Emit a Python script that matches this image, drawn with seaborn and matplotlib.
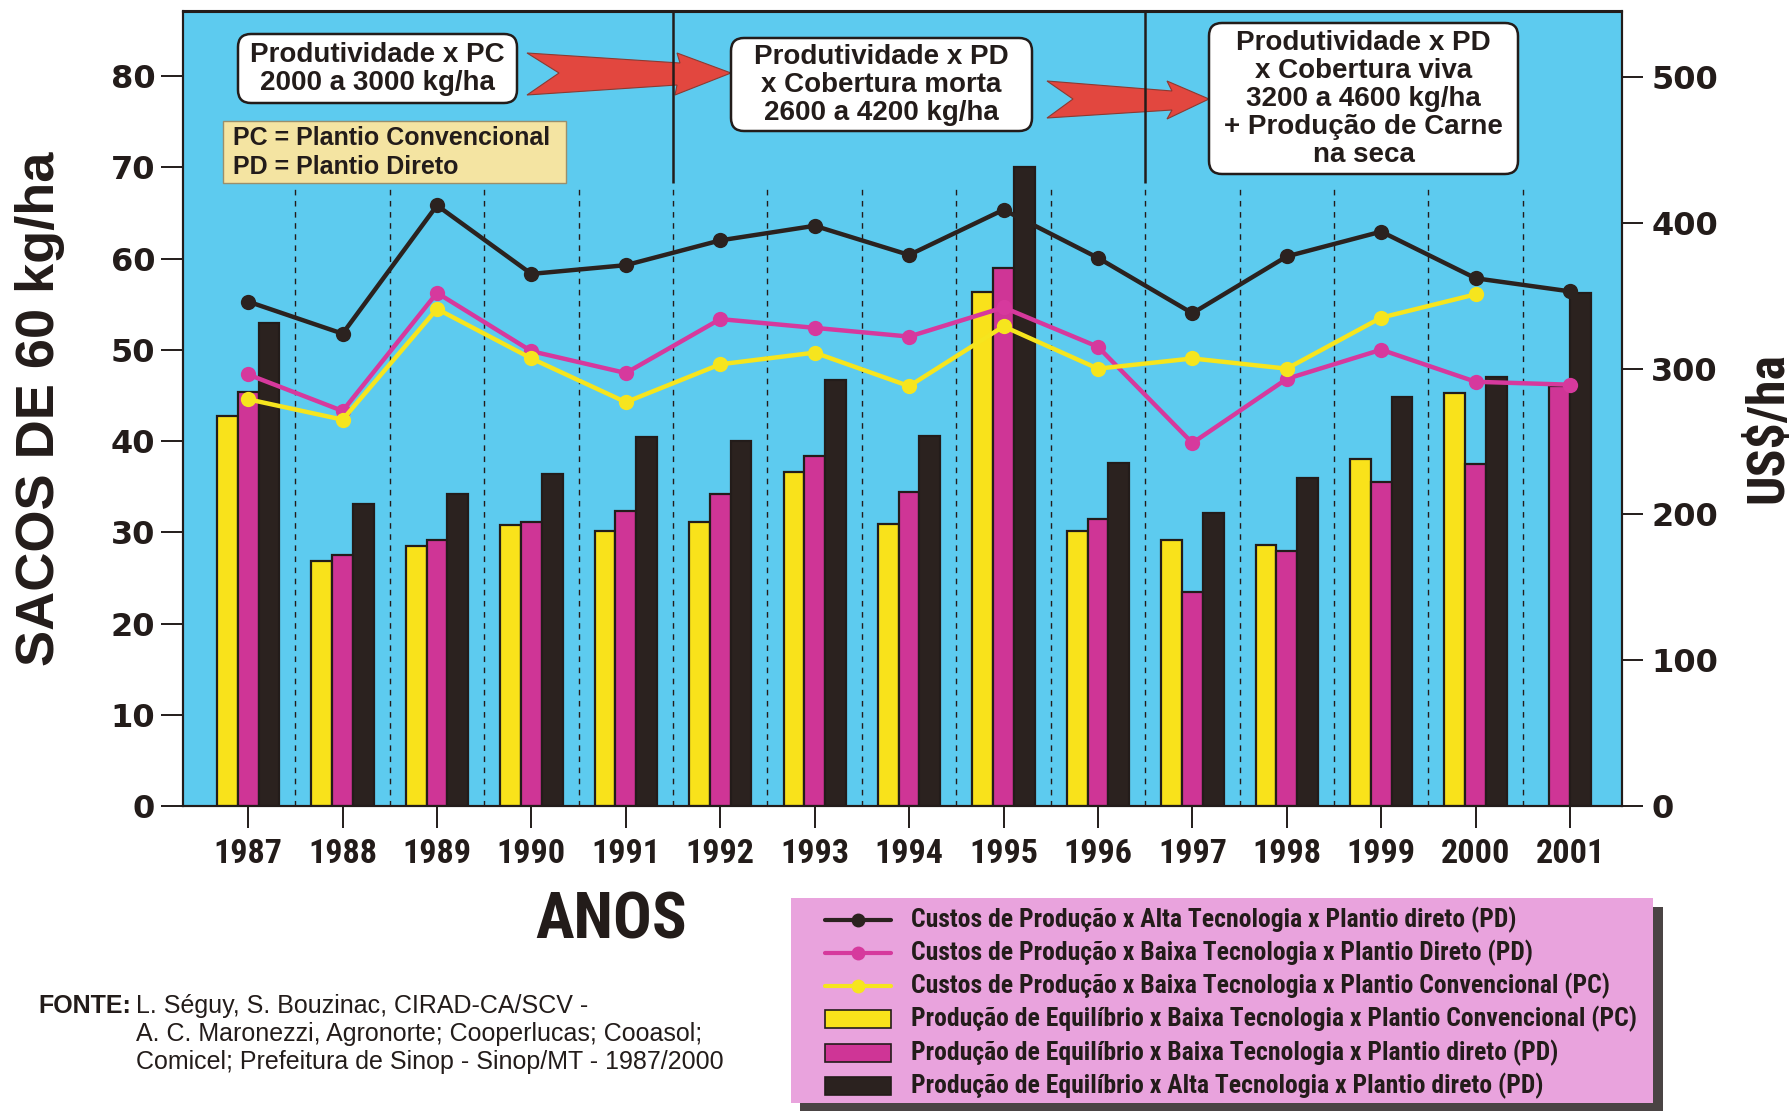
import numpy as np
import pandas as pd
import matplotlib
matplotlib.use("Agg")
import matplotlib.pyplot as plt
import seaborn as sns
from matplotlib import font_manager as fm
from matplotlib.font_manager import FontProperties
from matplotlib.lines import Line2D
from matplotlib.patches import FancyBboxPatch, Polygon

# ---------------------------------------------------------------- data
anos = ["1987", "1988", "1989", "1990", "1991", "1992", "1993", "1994",
        "1995", "1996", "1997", "1998", "1999", "2000", "2001"]

# Produção de equilíbrio (sacos de 60 kg/ha)
prod_baixa_pc = [42.8, 26.9, 28.5, 30.8, 30.2, 31.1, 36.6, 30.9,
                 56.3, 30.2, 29.2, 28.6, 38.0, 45.3, None]
prod_baixa_pd = [45.4, 27.5, 29.2, 31.1, 32.3, 34.2, 38.4, 34.4,
                 59.0, 31.5, 23.5, 28.0, 35.5, 37.5, 46.0]
prod_alta_pd = [53.0, 33.1, 34.2, 36.4, 40.5, 40.0, 46.7, 40.6,
                70.0, 37.6, 32.1, 36.0, 44.8, 47.0, 56.2]

# Custos de produção (US$/ha)
custo_alta_pd = [346, 324, 412, 365, 371, 388, 398, 378,
                 409, 376, 338, 377, 394, 362, 353]
custo_baixa_pd = [296, 271, 352, 312, 297, 334, 328, 322,
                  342, 315, 249, 293, 313, 291, 289]
custo_baixa_pc = [279, 265, 341, 307, 277, 303, 311, 288,
                  329, 300, 307, 300, 335, 351, None]

rotulos_custo = [
    "Custos de Produção x Alta Tecnologia x Plantio direto (PD)",
    "Custos de Produção x Baixa Tecnologia x Plantio Direto (PD)",
    "Custos de Produção x Baixa Tecnologia x Plantio Convencional (PC)",
]
rotulos_prod = [
    "Produção de Equilíbrio x Baixa Tecnologia x Plantio Convencional (PC)",
    "Produção de Equilíbrio x Baixa Tecnologia x Plantio direto (PD)",
    "Produção de Equilíbrio x Alta Tecnologia x Plantio direto (PD)",
]

textos_caixas = [
    "Produtividade x PC\n2000 a 3000 kg/ha",
    "Produtividade x PD\nx Cobertura morta\n2600 a 4200 kg/ha",
    "Produtividade x PD\nx Cobertura viva\n3200 a 4600 kg/ha\n+ Produção de Carne\nna seca",
]
siglas = ["PC = Plantio Convencional", "PD = Plantio Direto"]
fonte = ["L. Séguy, S. Bouzinac, CIRAD-CA/SCV -",
         "A. C. Maronezzi, Agronorte; Cooperlucas; Cooasol;",
         "Comicel; Prefeitura de Sinop - Sinop/MT - 1987/2000"]

# ---------------------------------------------------------------- style
AZUL = "#5dcbef"
AMARELO = "#f9e21b"
MAGENTA = "#cf3596"
PRETO = "#2b221f"
L_AMARELO = "#f6e51e"
L_MAGENTA = "#d6399d"
INK = "#231c1a"
VERMELHO = "#e2473f"

W, H, DPI = 1792, 1113, 100

sns.set_theme(style="ticks")
plt.rcParams["font.family"] = ["Liberation Sans", "DejaVu Sans"]
plt.rcParams["axes.linewidth"] = 1.5


def _peso(f):
    w = f.weight
    if isinstance(w, str):
        w = fm.weight_dict.get(w, 400)
    return w


def fonte_condensada():
    """Bold condensed sans face if one is installed, else Liberation Sans Bold."""
    lista = fm.fontManager.ttflist
    preferidas = ["Liberation Sans Narrow", "Arial Narrow", "Roboto Condensed",
                  "DejaVu Sans Condensed", "Noto Sans Condensed",
                  "Open Sans Condensed"]
    for nome in preferidas:
        for f in lista:
            if f.name == nome and _peso(f) >= 600 and f.style == "normal":
                return FontProperties(fname=f.fname)
    for f in lista:
        if (f.stretch in ("condensed", "semi-condensed")
                and _peso(f) >= 600 and f.style == "normal"
                and ("Sans" in f.name or "Roboto" in f.name)
                and "CJK" not in f.name and "Mono" not in f.name):
            return FontProperties(fname=f.fname)
    return FontProperties(family="Liberation Sans", weight="bold")


COND = fonte_condensada()

fig = plt.figure(figsize=(W / DPI, H / DPI), dpi=DPI, facecolor="white")
renderer = fig.canvas.get_renderer()


def tamanho(texto, prop, largura_px):
    """Font size (pt) that makes `texto` span `largura_px` pixels."""
    p = prop.copy()
    p.set_size(20)
    w, _, _ = renderer.get_text_width_height_descent(texto, p, ismath=False)
    return 20 * largura_px / w


def com_tamanho(prop, size):
    p = prop.copy()
    p.set_size(size)
    return p


ax = fig.add_axes([183 / W, 1 - 806 / H, (1622 - 183) / W, (806 - 11.5) / H])
ax.set_facecolor(AZUL)

# ---------------------------------------------------------------- bars
series_barras = [
    (rotulos_prod[0], prod_baixa_pc, AMARELO),
    (rotulos_prod[1], prod_baixa_pd, MAGENTA),
    (rotulos_prod[2], prod_alta_pd, PRETO),
]
largura = 0.22
linhas = []
for i, ano in enumerate(anos):
    presentes = [(nome, vals[i]) for nome, vals, _ in series_barras
                 if vals[i] is not None]
    n = len(presentes)
    for k, (nome, v) in enumerate(presentes):
        linhas.append({"pos": i + (k - (n - 1) / 2) * largura,
                       "valor": v, "serie": nome})
df_barras = pd.DataFrame(linhas)

sns.barplot(data=df_barras, x="pos", y="valor", hue="serie",
            hue_order=[s[0] for s in series_barras],
            palette={s[0]: s[2] for s in series_barras},
            native_scale=True, dodge=False, width=1.0, errorbar=None,
            edgecolor=INK, linewidth=1.6, saturation=1, legend=False,
            orient="x", ax=ax, zorder=3)

# separators between years
ax.vlines(np.arange(len(anos) - 1) + 0.5, 0, 68, colors=INK,
          linestyles=(0, (4, 4)), linewidth=1.0, zorder=1)
ax.vlines([4.5, 9.5], 68.3, 87.1, colors=INK, linewidth=1.8, zorder=1)

# ---------------------------------------------------------------- lines
ax2 = ax.twinx()
series_linhas = [
    (rotulos_custo[0], custo_alta_pd, PRETO),
    (rotulos_custo[1], custo_baixa_pd, L_MAGENTA),
    (rotulos_custo[2], custo_baixa_pc, L_AMARELO),
]
for nome, vals, cor in series_linhas:
    d = pd.DataFrame({"x": np.arange(len(anos)),
                      "y": pd.Series(vals, dtype="float")}).dropna()
    sns.lineplot(data=d, x="x", y="y", color=cor, linewidth=3.2,
                 marker="o", markersize=11, markeredgewidth=0,
                 ax=ax2, zorder=5)

# ---------------------------------------------------------------- axes
ax.set_xlim(-0.69, 14.55)
ax.set_xticks(range(len(anos)), anos)
ax.set_ylim(0, 87.1)
ax.set_yticks(range(0, 81, 10))
ax2.set_ylim(0, 545)
ax2.set_yticks(range(0, 501, 100))
for a in (ax, ax2):
    a.set_xlabel("")
    a.set_ylabel("")
    for s in a.spines.values():
        s.set_color(INK)
        s.set_linewidth(1.5)
ax.tick_params(axis="x", length=16, width=1.4, colors=INK, pad=7)
ax.tick_params(axis="y", length=16, width=1.4, colors=INK, pad=4)
ax2.tick_params(axis="y", length=15, width=1.4, colors=INK, pad=6)
for t in ax.get_yticklabels() + ax2.get_yticklabels():
    t.set_fontfamily("DejaVu Sans")
    t.set_fontweight("bold")
    t.set_fontsize(23)
prop_anos = com_tamanho(COND, tamanho("1987", COND, 69))
for t in ax.get_xticklabels():
    t.set_fontproperties(prop_anos)

# ---------------------------------------------------------------- decorations (pixel layout)
T = fig.dpi_scale_trans


def px(x, y):
    return (x / DPI, (H - y) / DPI)


def caixa(x0, y0, x1, y1, **kw):
    p = FancyBboxPatch(px(x0, y1), (x1 - x0) / DPI, (y1 - y0) / DPI,
                       transform=T, **kw)
    fig.add_artist(p)
    return p


# block arrows between the phases, under the phase separators
setas = [
    [(527, 53), (680, 63), (677, 53), (731, 73), (675, 95), (677, 85),
     (527, 95), (559, 73)],
    [(1047, 81), (1172, 91), (1167, 81), (1209, 99), (1167, 119),
     (1172, 110), (1047, 118), (1073, 99)],
]
for pts in setas:
    ax.add_patch(Polygon([px(x, y) for x, y in pts], closed=True,
                         transform=T, fc=VERMELHO, ec="#8c3a32",
                         lw=0.8, zorder=0.5, clip_on=False))

caixas_px = [(238, 34, 517, 103), (731, 38, 1032, 131), (1209, 23, 1518, 174)]
for (x0, y0, x1, y1), txt in zip(caixas_px, textos_caixas):
    caixa(x0, y0, x1, y1, boxstyle="round,pad=0,rounding_size=0.13",
          fc="white", ec=INK, lw=1.8, zorder=3)
    fig.text(*px((x0 + x1) / 2, (y0 + y1) / 2 + 1), txt, transform=T,
             ha="center", va="center", fontsize=20, fontweight="bold",
             family="Liberation Sans", linespacing=1.1, color=INK, zorder=4)

caixa(223, 121, 566, 183, boxstyle="square,pad=0", fc="#f4e4a2",
      ec="#9a8f6c", lw=1.0, zorder=3)
for yy, s in zip([138, 167], siglas):
    fig.text(*px(233, yy), s, transform=T, ha="left", va="center",
             fontsize=18, fontweight="bold", family="Liberation Sans",
             color=INK, zorder=4)

# axis titles
fig.text(*px(40, 409), "SACOS DE 60 kg/ha", transform=T, rotation=90,
         ha="center", va="center", fontsize=39, fontweight="bold",
         family="Liberation Sans", color=INK)
fig.text(*px(1768, 428), "US$/ha", transform=T, rotation=90,
         ha="center", va="center", color=INK,
         fontproperties=com_tamanho(COND, tamanho("US$/ha", COND, 151)))
fig.text(*px(611, 921), "ANOS", transform=T, ha="center", va="center",
         color=INK, fontproperties=com_tamanho(COND, tamanho("ANOS", COND, 152)))

# source
fig.text(*px(38, 1006), "FONTE:", transform=T, ha="left", va="center",
         fontsize=18, fontweight="bold", family="Liberation Sans", color=INK)
for yy, s in zip([1006, 1034, 1062], fonte):
    fig.text(*px(136, yy), s, transform=T, ha="left", va="center",
             fontsize=18, family="Liberation Sans", color=INK)

# legend panel with drop shadow
caixa(800, 907, 1663, 1111, boxstyle="square,pad=0", fc="#4a4444",
      ec="none", zorder=2)
caixa(791, 898, 1653, 1103, boxstyle="square,pad=0", fc="#e9a3dd",
      ec="none", zorder=2)

prop_leg = com_tamanho(COND, tamanho(rotulos_prod[0], COND, 726))
linhas_leg = [920, 953, 986, 1019, 1053, 1086]
hx0, hx1, tx = 825, 891, 911
for yy, (nome, _, cor) in zip(linhas_leg[:3], series_linhas):
    fig.add_artist(Line2D([hx0 / DPI, hx1 / DPI], [px(0, yy)[1]] * 2,
                          transform=T, color=cor, lw=3, zorder=4))
    fig.add_artist(Line2D([(hx0 + hx1) / 2 / DPI], [px(0, yy)[1]],
                          transform=T, color=cor, marker="o",
                          markersize=10, markeredgewidth=0, zorder=4))
    fig.text(*px(tx, yy), nome, transform=T, ha="left", va="center",
             color=INK, fontproperties=prop_leg, zorder=4)
for yy, (nome, _, cor) in zip(linhas_leg[3:], series_barras):
    caixa(hx0, yy - 9, hx1, yy + 9, boxstyle="square,pad=0", fc=cor,
          ec=INK, lw=1.2, zorder=4)
    fig.text(*px(tx, yy), nome, transform=T, ha="left", va="center",
             color=INK, fontproperties=prop_leg, zorder=4)

fig.savefig("out.png", dpi=DPI, facecolor="white")
